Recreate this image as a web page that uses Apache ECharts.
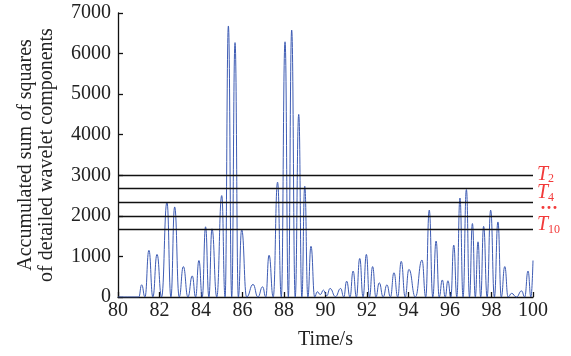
<!DOCTYPE html>
<html>
<head>
<meta charset="utf-8">
<script src="https://cdn.jsdelivr.net/npm/echarts@6/dist/echarts.min.js"></script>
<style>html,body{margin:0;padding:0;background:#fff}#c{width:571px;height:356px}</style>
</head>
<body>
<div id="c"></div>
<script>
// Time (s) of each read point (peaks and troughs)
var times = [
  80.00, 81.00, 81.14, 81.30, 81.49, 81.68, 81.88, 82.10, 82.36, 82.55, 82.73, 82.95,
  83.15, 83.37, 83.58, 83.74, 83.90, 84.06, 84.22, 84.38, 84.53, 84.76, 85.00, 85.16,
  85.32, 85.48, 85.64, 85.80, 85.96, 86.20, 86.51, 86.74, 86.97, 87.12, 87.28, 87.48,
  87.69, 87.87, 88.05, 88.21, 88.37, 88.54, 88.71, 88.86, 89.00, 89.15, 89.30, 89.48,
  89.60, 89.75, 89.90, 90.06, 90.22, 90.48, 90.73, 90.88, 91.02, 91.18, 91.33, 91.49,
  91.65, 91.81, 91.97, 92.12, 92.27, 92.43, 92.59, 92.78, 92.96, 93.13, 93.30, 93.48,
  93.65, 93.84, 94.02, 94.33, 94.65, 94.83, 95.00, 95.17, 95.33, 95.48, 95.63, 95.77,
  95.90, 96.04, 96.18, 96.33, 96.48, 96.63, 96.79, 96.94, 97.08, 97.22, 97.35, 97.48,
  97.62, 97.79, 97.96, 98.14, 98.31, 98.47, 98.64, 98.80, 98.97, 99.20, 99.45, 99.60,
  99.76, 99.90, 100.00
];
// Accumulated sum of squares of detailed wavelet components
var values = [
  0, 0, 300, 0, 1150, 0, 1050, 0, 2340, 0, 2220, 0,
  750, 0, 520, 0, 900, 0, 1730, 0, 1680, 0, 2500, 0,
  6680, 0, 6270, 0, 1660, 0, 310, 0, 250, 0, 1030, 0,
  2830, 0, 6290, 0, 6580, 0, 4500, 0, 2730, 0, 1250, 0,
  130, 60, 170, 30, 210, 10, 210, 0, 390, 0, 640, 0,
  950, 0, 1050, 0, 750, 0, 350, 0, 300, 0, 600, 0,
  880, 0, 680, 0, 910, 0, 2140, 0, 1380, 0, 420, 0,
  400, 0, 1280, 0, 2440, 0, 2650, 0, 1810, 0, 1360, 0,
  1740, 0, 2140, 0, 1850, 0, 750, 0, 90, 0, 150, 0,
  640, 0, 900
];
// Threshold levels and their labels
var thresholds = [3000, 2670, 2340, 2000, 1670];
var thresholdLabels = ['{t|T}{s|2}', '{t|T}{s|4}', '{d|\u00B7\u00B7\u00B7}', '', '{t|T}{s|10}'];
var xTicks = [80, 82, 84, 86, 88, 90, 92, 94, 96, 98, 100];
var yTicks = [0, 1000, 2000, 3000, 4000, 5000, 6000, 7000];

var serif = '"Liberation Serif","DejaVu Serif",serif';
var labelOffsets = [[0, -1], [0, 4], [0, 7], [0, 0], [0, -4]];

var chart = echarts.init(document.getElementById('c'), null, {renderer: 'canvas'});
var data = times.map(function (t, i) { return [t, values[i]]; });

chart.setOption({
  animation: false,
  backgroundColor: '#fff',
  grid: {left: 118, right: 38, top: 13, bottom: 59},
  xAxis: {
    type: 'value', min: xTicks[0], max: xTicks[xTicks.length - 1], interval: 2,
    name: 'Time/s', nameLocation: 'middle', nameGap: 33,
    nameTextStyle: {fontFamily: serif, fontSize: 20, color: '#222'},
    axisLine: {show: true, lineStyle: {color: '#111', width: 1.3}},
    axisTick: {show: true, inside: true, length: 5, lineStyle: {color: '#111', width: 1.3}},
    axisLabel: {fontFamily: serif, fontSize: 20, color: '#222', margin: 4,
      formatter: function (v) { return String(v); }},
    splitLine: {show: false}
  },
  yAxis: {
    type: 'value', min: yTicks[0], max: yTicks[yTicks.length - 1], interval: 1000,
    name: 'Accumulated sum of squares\nof detailed wavelet components',
    nameLocation: 'middle', nameGap: 61, nameRotate: 90,
    nameTextStyle: {fontFamily: serif, fontSize: 20, color: '#222', lineHeight: 21},
    axisLine: {show: true, lineStyle: {color: '#111', width: 1.3}},
    axisTick: {show: true, inside: true, length: 5, lineStyle: {color: '#111', width: 1.3}},
    axisLabel: {fontFamily: serif, fontSize: 20, color: '#222', margin: 7,
      formatter: function (v) { return String(v); }},
    splitLine: {show: false}
  },
  series: [{
    type: 'line',
    data: data,
    showSymbol: false,
    smooth: 0.5,
    smoothMonotone: 'x',
    lineStyle: {color: '#3d5bb3', width: 1},
    markLine: {
      silent: true,
      symbol: ['none', 'none'],
      animation: false,
      lineStyle: {color: '#111', width: 1.4, type: 'solid'},
      data: thresholds.map(function (v, i) {
        return {
          yAxis: v,
          label: {
            show: thresholdLabels[i] !== '',
            position: 'end',
            distance: 4,
            offset: labelOffsets[i],
            formatter: thresholdLabels[i],
            rich: {
              t: {fontFamily: serif, fontStyle: 'italic', fontSize: 20, color: '#f23a3a', lineHeight: 22, verticalAlign: 'middle'},
              s: {fontFamily: serif, fontSize: 12, color: '#f23a3a', lineHeight: 22, verticalAlign: 'bottom', padding: [8, 0, 0, 0]},
              d: {fontFamily: serif, fontSize: 18, fontWeight: 'bold', color: '#f23a3a', padding: [0, 0, 0, 3]}
            }
          }
        };
      })
    }
  }]
});
</script>
</body>
</html>
